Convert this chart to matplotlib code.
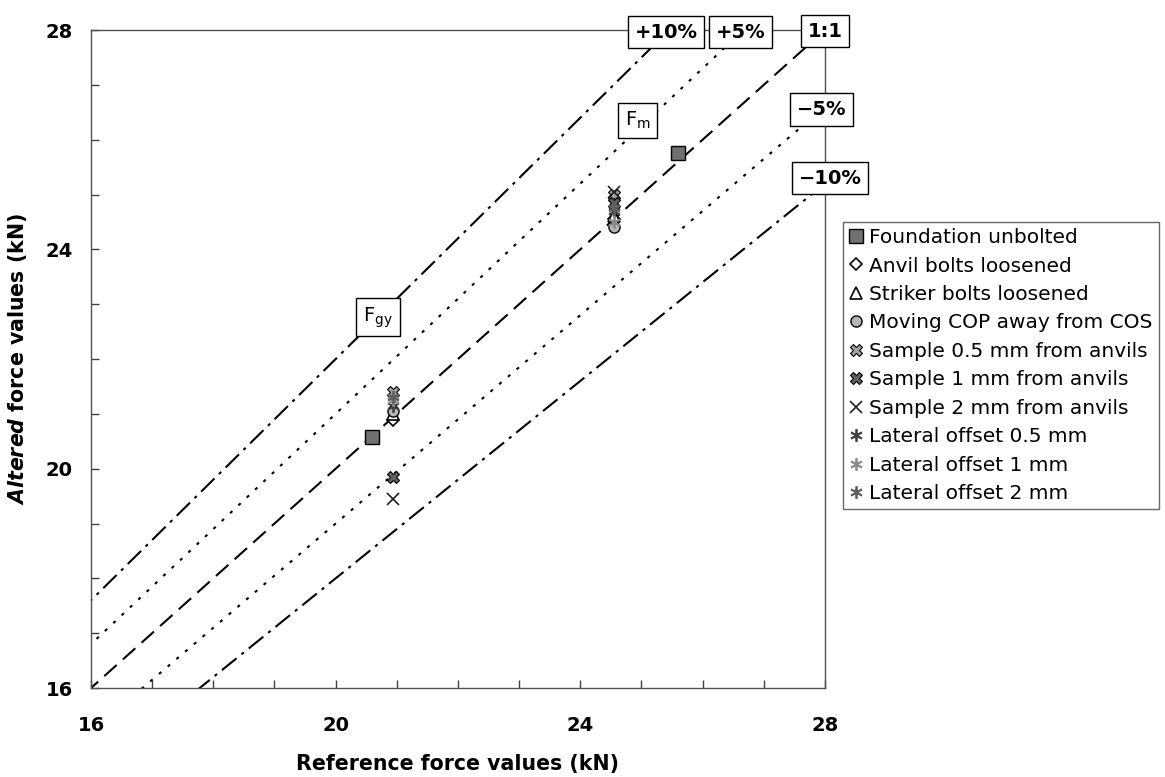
import numpy as np
import matplotlib
matplotlib.use('Agg')
import matplotlib.pyplot as plt

plt.rcParams['font.family'] = ['DejaVu Sans']
plt.rcParams['mathtext.fontset'] = 'custom'
plt.rcParams['mathtext.it'] = 'DejaVu Sans:italic:bold'
plt.rcParams['mathtext.rm'] = 'DejaVu Sans'

# referencia e valores alterados (kN) para cada condicao
series_names = [
    "Foundation unbolted",
    "Anvil bolts loosened",
    "Striker bolts loosened",
    "Moving COP away from COS",
    "Sample 0.5 mm from anvils",
    "Sample 1 mm from anvils",
    "Sample 2 mm from anvils",
    "Lateral offset 0.5 mm",
    "Lateral offset 1 mm",
    "Lateral offset 2 mm",
]
ref_values = [
    [20.6, 25.6],
    [20.93, 24.55],
    [20.93, 24.55],
    [20.93, 24.55],
    [20.93, 24.55],
    [20.93, 24.55],
    [20.93, 24.55],
    [20.93, 24.55],
    [20.93, 24.55],
    [20.93, 24.55],
]
altered_values = [
    [20.58, 25.75],
    [20.88, 24.55],
    [21.0, 24.6],
    [21.05, 24.4],
    [21.4, 25.0],
    [19.85, 24.85],
    [19.45, 25.05],
    [21.15, 24.7],
    [21.25, 24.5],
    [21.3, 24.75],
]

# linhas de referencia: desvio relativo
deviations = [0.10, 0.05, 0.0, -0.05, -0.10]
deviation_labels = ["+10%", "+5%", "1:1", "\u22125%", "\u221210%"]

# estilo de cada marcador
marker_styles = [
    dict(marker='s', ms=10, mfc='#707070', mec='black', mew=1),
    dict(marker='D', ms=6.5, mfc='white', mec='black', mew=1.2),
    dict(marker='^', ms=8, mfc='white', mec='black', mew=1.2),
    dict(marker='o', ms=8, mfc='#b5b5b5', mec='black', mew=1),
    dict(marker='X', ms=9, mfc='#a0a0a0', mec='black', mew=0.8),
    dict(marker='X', ms=9, mfc='#606060', mec='black', mew=0.8),
    dict(marker='x', ms=8, mfc='none', mec='#202020', mew=1.2),
    dict(marker=(6, 2, 0), ms=9, mfc='none', mec='#404040', mew=1.3),
    dict(marker=(6, 2, 0), ms=9, mfc='none', mec='#8a8a8a', mew=1.3),
    dict(marker=(6, 2, 0), ms=9, mfc='none', mec='#606060', mew=1.3),
]
line_styles = [
    (0, (9, 3, 1.5, 3)),
    (0, (1.5, 4)),
    (0, (8, 4)),
    (0, (1.5, 4)),
    (0, (9, 3, 1.5, 3)),
]

fig = plt.figure(figsize=(11.65, 7.77), dpi=100)
ax = fig.add_axes([91 / 1165, 1 - 688 / 777, (825 - 91) / 1165, (688 - 30) / 777])

x_line = np.array([15.0, 29.0])
for dev, ls in zip(deviations, line_styles):
    ax.plot(x_line, x_line * (1 + dev), color='black', lw=1.5, ls=ls, zorder=2)

for name, xs, ys, st in zip(series_names, ref_values, altered_values, marker_styles):
    ax.plot(xs, ys, ls='none', label=name, zorder=4, **st)

ax.set_xlim(16, 28)
ax.set_ylim(16, 28)
ax.set_xticks([16, 20, 24, 28])
ax.set_yticks([16, 20, 24, 28])
ax.set_xticks(np.arange(16, 29, 1), minor=True)
ax.set_yticks(np.arange(16, 29, 1), minor=True)
ax.tick_params(which='both', direction='in', length=6, width=1, color='#404040',
               top=False, right=False)
ax.tick_params(axis='x', which='major', pad=20, labelsize=14)
ax.tick_params(axis='y', which='major', pad=13, labelsize=14)
for lbl in ax.get_xticklabels() + ax.get_yticklabels():
    lbl.set_fontweight('bold')
for sp in ax.spines.values():
    sp.set_color('#505050')
    sp.set_linewidth(1)

ax.set_xlabel("Reference force values (kN)", fontsize=14.8, fontweight='bold', labelpad=14)
ax.set_ylabel(r"$\it{Altered}$ force values (kN)", fontsize=14.8, fontweight='bold')
ax.yaxis.set_label_coords(-(91 - 29) / 734, 0.5)

# caixas com rotulo das linhas (coordenadas de dados)
box = dict(boxstyle='square,pad=0.35', fc='white', ec='black', lw=1)
label_pos = [(25.4, 27.96), (26.62, 27.96), (28.0, 27.98), (27.95, 26.55), (28.08, 25.3)]
for (lx, ly), txt in zip(label_pos, deviation_labels):
    ax.text(lx, ly, txt, fontsize=14, fontweight='bold', ha='center', va='center',
            bbox=box, zorder=6, clip_on=False)

ax.text(24.94, 26.35, r"F$_\mathregular{m}$", fontsize=14, ha='center', va='center',
        bbox=box, zorder=6)
ax.text(20.69, 22.76, r"F$_\mathregular{gy}$", fontsize=14, ha='center', va='center',
        bbox=box, zorder=6)

leg = fig.legend(loc='upper left', bbox_to_anchor=(843 / 1165, 1 - 222 / 777),
                 fontsize=14.5, frameon=True, fancybox=False, edgecolor='#404040',
                 handlelength=0.7, handletextpad=0.3, labelspacing=0.47,
                 borderpad=0.3, borderaxespad=0)
leg.get_frame().set_linewidth(1)

plt.savefig("out.png", dpi=100)
plt.close(fig)
